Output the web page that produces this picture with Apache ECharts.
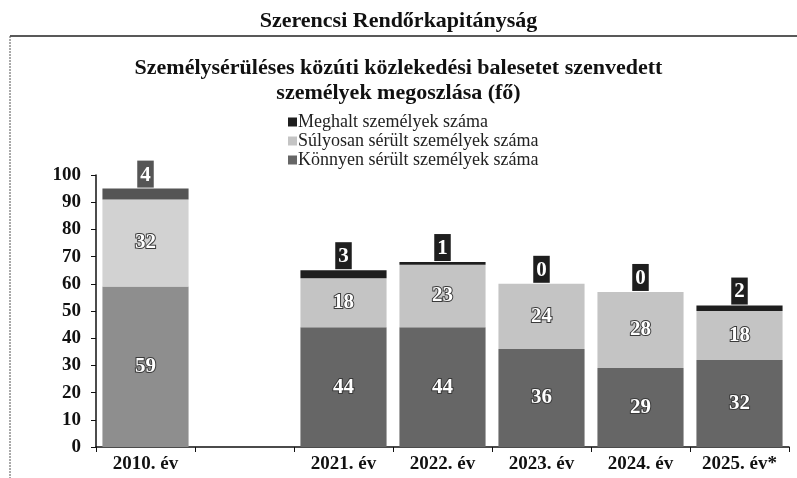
<!DOCTYPE html>
<html>
<head>
<meta charset="utf-8">
<script src="https://cdn.jsdelivr.net/npm/echarts@6/dist/echarts.min.js"></script>
<style>
  html, body { margin: 0; padding: 0; background: #fff; }
  #chart { width: 797px; height: 478px; }
</style>
</head>
<body>
<div id="chart"></div>
<script>
// adatok
const categories = ['2010. év', '', '2021. év', '2022. év', '2023. év', '2024. év', '2025. év*'];
const konnyen = [59, null, 44, 44, 36, 29, 32];
const sulyosan = [32, null, 18, 23, 24, 28, 18];
const meghalt = [4, null, 3, 1, 0, 0, 2];
const yTicks = [0, 10, 20, 30, 40, 50, 60, 70, 80, 90, 100];

const serif = '"Liberation Serif", "DejaVu Serif", serif';

const chart = echarts.init(document.getElementById('chart'));

// a 2010-es oszlop halványabb a szkennelt képen
function items(values, color2010, color, label2010) {
  return values.map((v, i) => {
    if (v === null) return '-';
    const item = { value: v, itemStyle: { color: i === 0 ? color2010 : color } };
    if (i === 0 && label2010) item.label = label2010;
    return item;
  });
}

const innerLabel = {
  show: true,
  position: 'inside',
  color: '#fff',
  fontFamily: serif,
  fontWeight: 'bold',
  fontSize: 21,
  textBorderColor: '#3a3a3a',
  textBorderWidth: 2
};

const titleStyle = { fontFamily: serif, fontWeight: 'bold', fontSize: 22, color: '#111' };

const option = {
  animation: false,
  backgroundColor: '#fff',
  title: [
    { text: 'Szerencsi Rendőrkapitányság', left: 'center', top: 5, textStyle: titleStyle },
    { text: 'Személysérüléses közúti közlekedési balesetet szenvedett', left: 'center', top: 52, textStyle: titleStyle },
    { text: 'személyek megoszlása (fő)', left: 'center', top: 77, textStyle: titleStyle }
  ],
  graphic: [
    { type: 'line', shape: { x1: 10, y1: 36, x2: 797, y2: 36 }, style: { stroke: '#222', lineWidth: 1.5 } },
    { type: 'line', shape: { x1: 10, y1: 36, x2: 10, y2: 478 }, style: { stroke: '#555', lineWidth: 1, lineDash: [2, 1] } }
  ],
  legend: {
    orient: 'vertical',
    left: 283,
    top: 108,
    itemWidth: 9,
    itemHeight: 9,
    itemGap: 1,
    icon: 'rect',
    data: ['Meghalt személyek száma', 'Súlyosan sérült személyek száma', 'Könnyen sérült személyek száma'],
    textStyle: { fontFamily: serif, fontSize: 18, color: '#222', padding: [0, 0, 0, -4] }
  },
  grid: { left: 96, right: 8, top: 175, bottom: 31 },
  xAxis: {
    type: 'category',
    data: categories,
    axisLine: { lineStyle: { color: '#111', width: 1.5 } },
    axisTick: { show: true, length: 5, lineStyle: { color: '#111' } },
    axisLabel: { fontFamily: serif, fontWeight: 'bold', fontSize: 19, color: '#111', margin: 8 }
  },
  yAxis: {
    type: 'value',
    min: 0,
    max: 100,
    interval: 10,
    axisLine: { show: true, lineStyle: { color: '#111', width: 1.5 } },
    axisTick: { show: true, length: 5, lineStyle: { color: '#111' } },
    splitLine: { show: false },
    axisLabel: {
      fontFamily: serif, fontWeight: 'bold', fontSize: 19, color: '#111', margin: 15,
      formatter: v => (yTicks.includes(v) ? String(v) : '')
    }
  },
  series: [
    {
      name: 'Könnyen sérült személyek száma',
      type: 'bar',
      stack: 'total',
      barWidth: '87%',
      color: '#666666',
      data: items(konnyen, '#8e8e8e', '#666666'),
      label: innerLabel
    },
    {
      name: 'Súlyosan sérült személyek száma',
      type: 'bar',
      stack: 'total',
      color: '#c4c4c4',
      data: items(sulyosan, '#d2d2d2', '#c4c4c4'),
      label: innerLabel
    },
    {
      name: 'Meghalt személyek száma',
      type: 'bar',
      stack: 'total',
      color: '#1e1e1e',
      data: items(meghalt, '#555555', '#1e1e1e', { backgroundColor: '#555' }),
      label: {
        show: true,
        position: 'top',
        distance: 1,
        color: '#fff',
        backgroundColor: '#1e1e1e',
        padding: [4, 3, 2, 3],
        fontFamily: serif,
        fontWeight: 'bold',
        fontSize: 21
      }
    }
  ]
};

chart.setOption(option);
</script>
</body>
</html>
